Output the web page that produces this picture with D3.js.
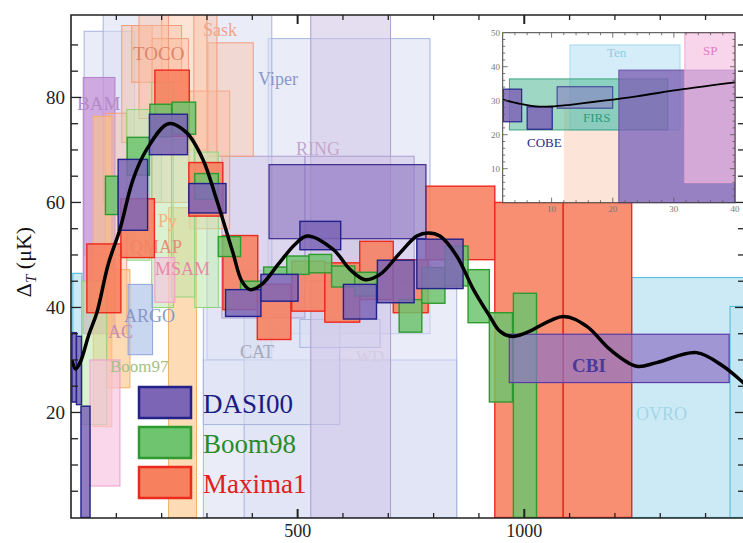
<!DOCTYPE html>
<html>
<head>
<meta charset="utf-8">
<script src="https://cdn.jsdelivr.net/npm/d3@7"></script>
<style>
  body { margin: 0; background: #fff; }
  text { font-family: "Liberation Serif", "Times New Roman", serif; }
</style>
</head>
<body>
<script>
// band powers as [lMin, lMax, dTlow, dThigh]
var dasi00 = [[104,169,54.7,68.2],[173,257,69.1,76.8],[260,342,58,63.6],[341,419,38.3,43.4],
  [419,501,41.2,46.3],[505,595,51,56.4],[601,674,37.8,44.4],[676,757,40.9,49],[763,865,43.6,53],
  [2,12,22,35.2],[12,23,21.5,34.5],[22,42,0,21.2]];
var boom98 = [[76,104,57.7,65],[124,173,65.2,72.4],[174,222,72.5,78.7],[223,275,73,79.1],
  [273,325,60.6,65.5],[325,374,49.7,53.5],[374,419,43.4,45],[425,476,46.3,47.7],[476,525,46.3,49.8],
  [525,575,46.6,50.1],[575,626,43.9,47.9],[626,674,42.2,46.7],[724,774,35.3,41.5],[774,825,40.8,47.6],
  [825,876,44.1,51.7],[876,923,37.1,47.2],[923,974,22,39],[976,1027,0,42.7]];
var maxima1 = [[185,261,72.6,85.2],[260,335,57.4,67.6],[110,184,49.5,60.7],[35,110,39,52.1],
  [335,412,39.6,53.7],[411,485,33.9,44.4],[487,560,39.3,48.8],[560,637,37.2,48.5],[637,711,41.5,52.6],
  [711,788,39,49.1],[783,935,49.1,63.1],[935,1086,0,60],[1086,1237,0,60]];
var ring = [[437,783,53.1,67.2]];
var cbi = [[967,1452,25.7,34.9]];

var peachBoxes = [[200,300,70,95.8],[112,179,71.4,93.7],[134,244,82.9,93.7],[179,259,60,91.2],
  [262,350,55,81.2],[302,402,68.8,90.4],[271,322,62,95.8],[76,123,35,77],[150,215,76,95.8]];
var orangeBoxes = [[49,90,17.3,76.4],[215,277,0,59],[78,130,24.7,47.2]];
var qmapBoxes = [[123,174,49,77.7],[178,226,40,82.9],[273,325,40,69.6],[24,79,17.7,45],[222,273,42,72]];
var bamBoxes = [[27,97,35,83.8]];
var pinkBoxes = [[42,108,6,30],[185,229,41,49.5]];
var argoBoxes = [[126,180,31,44.4]];
var viperBoxes = [[435,792,35,91.2],[29,140,50,92.6],[71,200,60,95.8],[300,443,30,95.8],
  [292,851,0,30],[382,851,0,47],[292,593,17.7,40],[505,682,32.4,37.7]];
var lavenderBoxes = [[529,705,0,95.8],[516,757,45,68.8],[333,516,38,68.8]];
var ovroBoxes = [[1237,1600,0,45.7],[1454,1600,0,40.2],[4,24,22,46.5]];

// theory curve
var curveL = [2,10,20,40,57,82,108,137,167,215,255,291,321,357,377,395,421,457,494,521,579,616,649,682,
  726,763,788,814,851,888,924,946,972,1005,1086,1138,1189,1248,1292,1380,1439,1483,1500];
var curveT = [30,28.3,29.5,35,39,48.2,54.9,64.4,70.1,75,73.3,68.2,60.6,50.5,45,43.4,44.4,48.2,52,53.6,51,
  47.2,45.3,46.3,50.4,53.6,54.2,53.6,49.8,43.4,38.3,35.5,34.5,35.2,38.3,36.4,32,28.8,29.5,31.4,28.8,25.7,24.5];

// inset (low l)
var insetSalmon = [[12,21,0,30]];
var insetTen = [[13,31,21.4,46.4]];
var insetFirs = [[3.1,29,21.4,36.4]];
var insetCobe = [[2.1,5.1,23.8,33.4],[6,10.1,21.6,28.2]];
var insetCobe2 = [[10.9,20,27.8,34.1]];
var insetBig = [[21,40,0,39]];
var insetSP = [[31.8,40,5.9,50]];
var insetCurveL = [2,4.8,7.5,10,13,18.5,23.9,31.5,40];
var insetCurveT = [30.3,29.1,28.3,28.3,28.8,30,31.3,33.4,35.4];

var yTicks = [20,40,60,80];
var xTicks = [500,1000];
var insetXTicks = [10,20,30,40];
var insetYTicks = [10,20,30,40,50];

var width = 743, height = 543;
var svg = d3.select("body").append("svg").attr("width", width).attr("height", height);

var x = d3.scaleLinear().domain([0,1487]).range([71,745]);
var y = d3.scaleLinear().domain([0,95.7]).range([517.5,15]);

svg.append("clipPath").attr("id","plotclip").append("rect")
  .attr("x",71).attr("y",15).attr("width",674).attr("height",503);

var plot = svg.append("g").attr("clip-path","url(#plotclip)");

function boxes(g, data, sx, sy, fill, fop, stroke, sw){
  g.append("g").selectAll("rect").data(data).enter().append("rect")
    .attr("x", function(d){ return sx(d[0]); })
    .attr("y", function(d){ return sy(d[3]); })
    .attr("width", function(d){ return sx(d[1]) - sx(d[0]); })
    .attr("height", function(d){ return sy(d[2]) - sy(d[3]); })
    .attr("fill", fill).attr("fill-opacity", fop)
    .attr("stroke", stroke).attr("stroke-width", sw);
}

//pale background experiments
boxes(plot, viperBoxes, x, y, "#d9dff2", 0.55, "#a6b4de", 1);
boxes(plot, lavenderBoxes, x, y, "#cfc2e6", 0.55, "#ad9dd2", 1);
boxes(plot, ovroBoxes, x, y, "#bfe5f2", 0.8, "#5ec0dc", 1.2);
boxes(plot, bamBoxes, x, y, "#c593d8", 0.75, "#b282ca", 1);
boxes(plot, peachBoxes, x, y, "#fbbc9e", 0.42, "#f29c7c", 1);
boxes(plot, orangeBoxes, x, y, "#fcc382", 0.6, "#f5b064", 1);
boxes(plot, qmapBoxes, x, y, "#bde7ad", 0.55, "#92d27e", 1);
boxes(plot, pinkBoxes, x, y, "#f8c2e0", 0.65, "#ee9ccc", 1);
boxes(plot, argoBoxes, x, y, "#a4bae5", 0.6, "#8ea4d8", 1);

//experiment names
var names = [
  ["TOCO",133,60,"#de8468",19,"normal"],["Sask",203,36,"#f0a58a",18,"normal"],
  ["BAM",77,110,"#b48ac8",19,"normal"],["Viper",258,85,"#8a98c8",18,"normal"],
  ["RING",296,155,"#c4a6cc",18,"normal"],["Py",158,227,"#f2b47e",18,"normal"],
  ["QMAP",130,253,"#e58e78",18,"normal"],["MSAM",155,275,"#e889a8",18,"normal"],
  ["ARGO",124,322,"#8898c8",18,"normal"],["AC",108,338,"#c490b4",18,"normal"],
  ["Boom97",110,372,"#a6bf88",17,"normal"],["CAT",240,358,"#a6a8ba",18,"normal"],
  ["WD",356,362,"#d4cce2",17,"normal"],["OVRO",636,420,"#a2d6e6",18,"normal"]
];
plot.append("g").selectAll("text").data(names).enter().append("text")
  .attr("x", function(d){ return d[1]; }).attr("y", function(d){ return d[2]; })
  .attr("fill", function(d){ return d[3]; }).attr("font-size", function(d){ return d[4]; })
  .text(function(d){ return d[0]; });

//main data sets
boxes(plot, maxima1, x, y, "#f7805e", 0.88, "#ec2a1e", 1.4);
boxes(plot, boom98, x, y, "#6fc46f", 0.85, "#2f9a2f", 1.4);
boxes(plot, ring, x, y, "#8a70bf", 0.6, "#3c2c8c", 1.2);
boxes(plot, dasi00, x, y, "#7d65b6", 0.85, "#22228a", 1.4);
boxes(plot, cbi, x, y, "#8d72c4", 0.7, "#5a3aa8", 1.2);

plot.append("text").attr("x", 572).attr("y", 372).attr("fill","#4a3a9a")
  .attr("font-size", 19).attr("font-weight","bold").text("CBI");

var line = d3.line()
  .x(function(d, i){ return x(curveL[i]); })
  .y(function(d){ return y(d); })
  .curve(d3.curveCatmullRom.alpha(0.5));
plot.append("path").datum(curveT).attr("d", line)
  .attr("fill","none").attr("stroke","#000").attr("stroke-width",3.5);

//frame and ticks
svg.append("path").attr("d","M745,15H71V518H745").attr("fill","none").attr("stroke","#222").attr("stroke-width",1.6);
var tk = svg.append("g").attr("stroke","#222");
d3.range(100,1500,100).forEach(function(l){
  var big = (l % 500 === 0), len = big ? 9 : 5;
  tk.append("line").attr("x1",x(l)).attr("x2",x(l)).attr("y1",518).attr("y2",518-len).attr("stroke-width", big ? 2 : 1.3);
  tk.append("line").attr("x1",x(l)).attr("x2",x(l)).attr("y1",15).attr("y2",15+len).attr("stroke-width", big ? 2 : 1.3);
});
d3.range(5,95,5).forEach(function(t){
  var big = (t % 20 === 0), len = big ? 10 : 7;
  tk.append("line").attr("x1",71).attr("x2",71+len).attr("y1",y(t)).attr("y2",y(t)).attr("stroke-width",1.3);
  tk.append("line").attr("x1",745).attr("x2",745-len).attr("y1",y(t)).attr("y2",y(t)).attr("stroke-width",1.3);
});

svg.append("g").selectAll("text").data(yTicks).enter().append("text")
  .attr("x", 65).attr("y", function(d){ return y(d) + 7; })
  .attr("text-anchor","end").attr("font-size",19).attr("fill","#222").text(function(d){ return d; });
svg.append("g").selectAll("text").data(xTicks).enter().append("text")
  .attr("x", function(d){ return x(d); }).attr("y", 537)
  .attr("text-anchor","middle").attr("font-size",18).attr("fill","#222").text(function(d){ return d; });

var ylab = svg.append("text").attr("transform","translate(31,262) rotate(-90)")
  .attr("text-anchor","middle").attr("font-size",22).attr("fill","#111");
ylab.append("tspan").text("\u0394");
ylab.append("tspan").attr("font-size",15).attr("font-style","italic").attr("dy",5).text("T");
ylab.append("tspan").attr("dy",-5).text(" (\u03bcK)");

//legend
var legendNames = ["DASI00","Boom98","Maxima1"];
var legendFill = ["#7d65b6","#6fc46f","#f7805e"];
var legendStroke = ["#22228a","#2f9a2f","#ec2a1e"];
var legendText = ["#1b1b86","#2a8a2a","#e0201c"];
var lg = svg.append("g").selectAll("g").data(legendNames).enter().append("g")
  .attr("transform", function(d, i){ return "translate(139," + (387 + i*40) + ")"; });
lg.append("rect").attr("width",52).attr("height",31)
  .attr("fill", function(d, i){ return legendFill[i]; })
  .attr("stroke", function(d, i){ return legendStroke[i]; }).attr("stroke-width",2.5);
lg.append("text").attr("x",64).attr("y",26).attr("font-size",27)
  .attr("fill", function(d, i){ return legendText[i]; }).text(function(d){ return d; });

//inset
var xi = d3.scaleLinear().domain([2,40]).range([502.7,735]);
var yi = d3.scaleLinear().domain([0,50]).range([202.7,32.7]);
var inset = svg.append("g");
inset.append("rect").attr("x",502.7).attr("y",32.7).attr("width",232.3).attr("height",170).attr("fill","#fff");
boxes(inset, insetSalmon, xi, yi, "#fcd2c0", 0.6, "none", 0);
boxes(inset, insetTen, xi, yi, "#c3e6f5", 0.7, "#a8d8ee", 1);
boxes(inset, insetFirs, xi, yi, "#4fb894", 0.55, "#3fa47e", 1);
boxes(inset, insetCobe2, xi, yi, "#8a78c4", 0.55, "#3a3a90", 1);
boxes(inset, insetCobe, xi, yi, "#7d65b6", 0.85, "#26268c", 1.2);
boxes(inset, insetBig, xi, yi, "#7d62b4", 0.8, "#6a52a8", 1);
boxes(inset, insetSP, xi, yi, "#f6bfe2", 0.65, "#eea6d4", 1);

var iline = d3.line()
  .x(function(d, i){ return xi(insetCurveL[i]); })
  .y(function(d){ return yi(d); })
  .curve(d3.curveCatmullRom.alpha(0.5));
inset.append("path").datum(insetCurveT).attr("d", iline)
  .attr("fill","none").attr("stroke","#000").attr("stroke-width",1.8);

inset.append("rect").attr("x",502.7).attr("y",32.7).attr("width",232.3).attr("height",170)
  .attr("fill","none").attr("stroke","#444").attr("stroke-width",1);
var itk = inset.append("g").attr("stroke","#555").attr("stroke-width",0.8);
d3.range(4,40,2).forEach(function(l){
  var len = (l % 10 === 0) ? 5 : 2.5;
  itk.append("line").attr("x1",xi(l)).attr("x2",xi(l)).attr("y1",202.7).attr("y2",202.7-len);
  itk.append("line").attr("x1",xi(l)).attr("x2",xi(l)).attr("y1",32.7).attr("y2",32.7+len);
});
d3.range(2,50,2).forEach(function(t){
  var len = (t % 10 === 0) ? 5 : 2.5;
  itk.append("line").attr("x1",502.7).attr("x2",502.7+len).attr("y1",yi(t)).attr("y2",yi(t));
  itk.append("line").attr("x1",735).attr("x2",735-len).attr("y1",yi(t)).attr("y2",yi(t));
});
inset.append("g").selectAll("text").data(insetYTicks).enter().append("text")
  .attr("x",500).attr("y", function(d){ return yi(d) + 3; }).attr("text-anchor","end")
  .attr("font-size",9).attr("fill","#777").text(function(d){ return d; });
inset.append("g").selectAll("text").data(insetXTicks).enter().append("text")
  .attr("x", function(d){ return xi(d); }).attr("y",212).attr("text-anchor","middle")
  .attr("font-size",9).attr("fill","#777").text(function(d){ return d; });

var insetNames = [["Ten",607,57,"#8ccfe2"],["SP",703,55,"#e27cc0"],["FIRS",583,122,"#2d9c7a"],["COBE",527,147,"#2a2a8e"]];
inset.append("g").selectAll("text").data(insetNames).enter().append("text")
  .attr("x", function(d){ return d[1]; }).attr("y", function(d){ return d[2]; })
  .attr("fill", function(d){ return d[3]; }).attr("font-size",13).text(function(d){ return d[0]; });
</script>
</body>
</html>
